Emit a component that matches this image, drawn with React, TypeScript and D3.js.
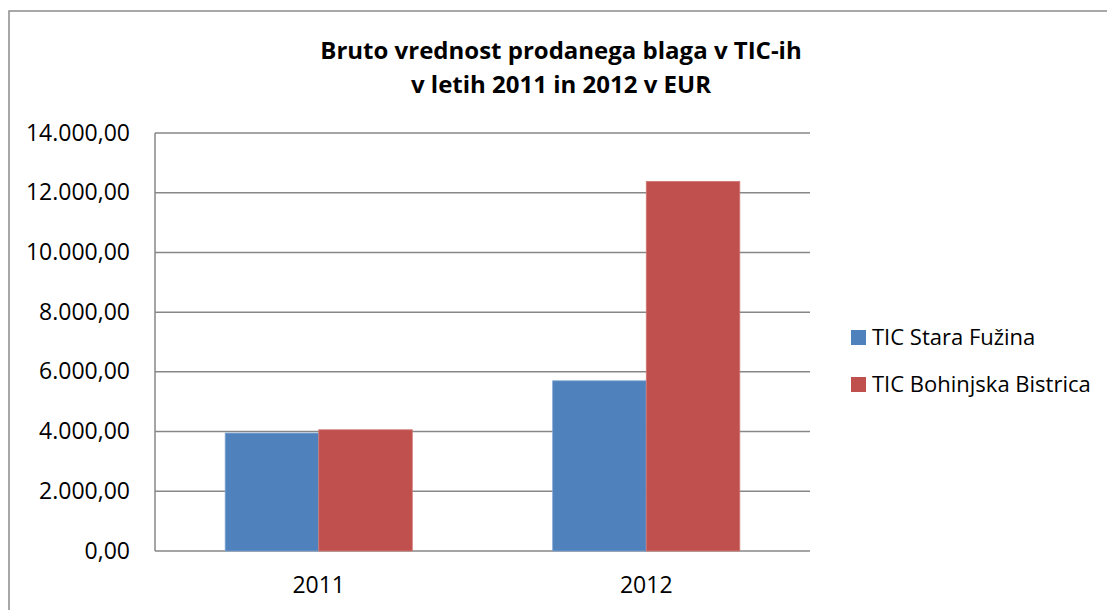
import * as d3 from "d3";

const years = ["2011", "2012"];
const seriesNames = ["TIC Stara Fužina", "TIC Bohinjska Bistrica"];
const staraFuzina = [3950, 5700];
const bohinjskaBistrica = [4060, 12380];
const yTicks = [0, 2000, 4000, 6000, 8000, 10000, 12000, 14000];
const titleLines = ["Bruto vrednost prodanega blaga v TIC-ih", "v letih 2011 in 2012 v EUR"];

const colors = ["#4f81bd", "#c0504d"];
const font = "'Open Sans', Lato, sans-serif";

const fmt = (v: number) => {
  const s = d3.format(",.2f")(v);
  return s.replace(/,/g, "#").replace(".", ",").replace(/#/g, ".");
};

export default function App() {
  const width = 1107;
  const height = 610;
  const plot = { left: 155, right: 810, top: 133, bottom: 551 };

  const x0 = d3.scaleBand().domain(years).range([plot.left, plot.right]).paddingInner(0.4287).paddingOuter(0.2143);
  const x1 = d3.scaleBand().domain(seriesNames).range([0, x0.bandwidth()]);
  const y = d3.scaleLinear().domain([0, 14000]).range([plot.bottom, plot.top]);

  const values = [staraFuzina, bohinjskaBistrica];

  return (
    <svg width={width} height={height} style={{ position: "absolute", left: 0, top: 0, background: "#fff" }}>
      <rect x={9} y={11} width={width} height={height} fill="#fff" stroke="#8c8c8c" strokeWidth={1.5} />
      <text textAnchor="middle" fontFamily={font} fontWeight="bold" fontSize={24} fill="#000">
        {titleLines.map((t, i) => (
          <tspan key={i} x={561} y={59 + i * 34}>{t}</tspan>
        ))}
      </text>
      {yTicks.map((t) => (
        <g key={t}>
          <line x1={plot.left} x2={plot.right} y1={y(t)} y2={y(t)} stroke="#878787" strokeWidth={1.5} />
          <text x={130} y={y(t) + 7.5} textAnchor="end" fontFamily={font} fontSize={23} fill="#000">{fmt(t)}</text>
        </g>
      ))}
      <line x1={plot.left} x2={plot.left} y1={plot.top} y2={plot.bottom} stroke="#878787" strokeWidth={1.5} />
      {years.map((yr, i) => (
        <g key={yr}>
          {seriesNames.map((s, j) => {
            const v = values[j][i];
            return (
              <rect key={s} x={(x0(yr) ?? 0) + (x1(s) ?? 0)} y={y(v)} width={x1.bandwidth()} height={y(0) - y(v)} fill={colors[j]} stroke={j === 1 ? "#d17a78" : "#7ea3d0"} strokeWidth={0.8} />
            );
          })}
          <text x={(x0(yr) ?? 0) + x0.bandwidth() / 2} y={593} textAnchor="middle" fontFamily={font} fontSize={23} fill="#000">{yr}</text>
        </g>
      ))}
      {seriesNames.map((s, j) => (
        <g key={s} transform={`translate(851, ${330 + j * 47})`}>
          <rect width={15} height={15} fill={colors[j]} />
          <text x={21} y={14.5} fontFamily={font} fontSize={22} fill="#000">{s}</text>
        </g>
      ))}
    </svg>
  );
}
